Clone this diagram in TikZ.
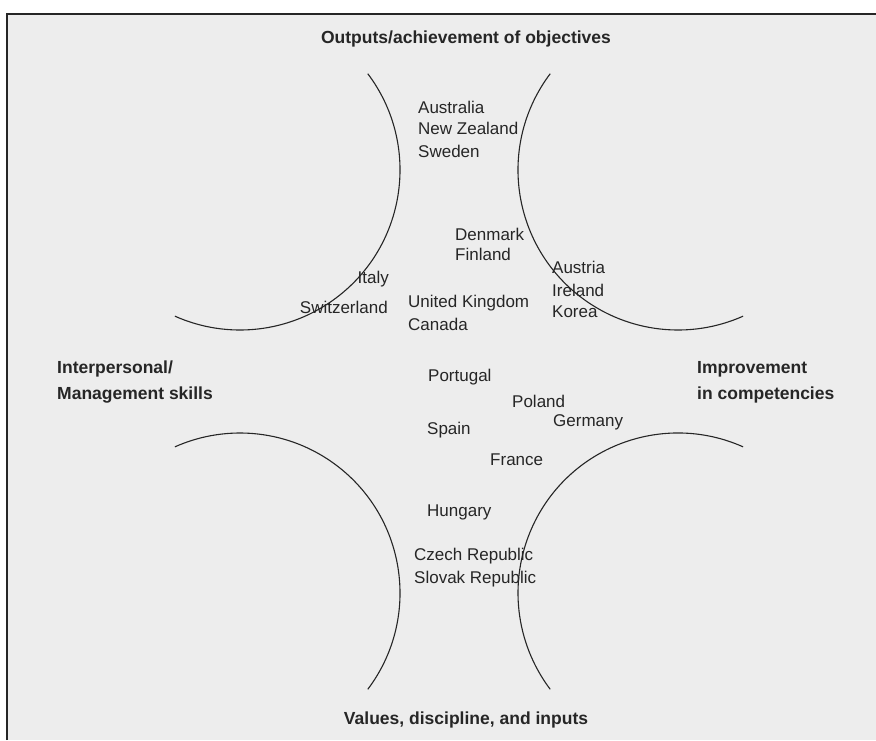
\documentclass[tikz,border=0pt]{standalone}
\usepackage{fontspec}
\setmainfont{Liberation Sans}
\definecolor{bgray}{HTML}{EDEDED}
\definecolor{ink}{HTML}{262626}
\begin{document}
\begin{tikzpicture}[x=1pt,y=1pt,
  country/.style={anchor=base west,inner sep=0pt,text=ink,font=\fontsize{17}{20}\selectfont},
  countryr/.style={anchor=base east,inner sep=0pt,text=ink,font=\fontsize{17}{20}\selectfont},
  heading/.style={inner sep=0pt,text=ink,font=\bfseries\fontsize{17.5}{21}\selectfont},
  curve/.style={draw=ink,line width=1.1pt}]
\useasboundingbox (0,0) rectangle (876,-740);
\fill[white] (0,0) rectangle (876,-740);
\fill[bgray] (7,-14) rectangle (876,-740);
\draw[ink,line width=1.8pt] (7,-740) -- (7,-14) -- (876,-14);
% arcs
\draw[curve] (240,-170) ++(37:160) arc[start angle=37,end angle=-114,radius=160];
\draw[curve] (678,-170) ++(143:160) arc[start angle=143,end angle=294,radius=160];
\draw[curve] (240,-593) ++(-37:160) arc[start angle=-37,end angle=114,radius=160];
\draw[curve] (678,-593) ++(66:160) arc[start angle=66,end angle=217,radius=160];
% headings
\node[heading,anchor=base] (top) at (466,-43) {Outputs/achievement of objectives};
\node[heading,anchor=base] (bottom) at (466,-724) {Values, discipline, and inputs};
\node[heading,anchor=base west] (left1) at (57,-373) {Interpersonal/};
\node[heading,anchor=base west] (left2) at (57,-399) {Management skills};
\node[heading,anchor=base west] (right1) at (697,-373) {Improvement};
\node[heading,anchor=base west] (right2) at (697,-399) {in competencies};
% countries
\node[country] (aus) at (418,-113) {Australia};
\node[country] (nz) at (418,-134) {New Zealand};
\node[country] (swe) at (418,-157) {Sweden};
\node[country] (den) at (455,-240) {Denmark};
\node[country] (fin) at (455,-260) {Finland};
\node[country] (aut) at (552,-273) {Austria};
\node[country] (irl) at (552,-296) {Ireland};
\node[country] (kor) at (552,-317) {Korea};
\node[countryr] (ita) at (389,-283) {Italy};
\node[countryr] (che) at (388,-313) {Switzerland};
\node[country] (uk) at (408,-307) {United Kingdom};
\node[country] (can) at (408,-330) {Canada};
\node[country] (por) at (428,-381) {Portugal};
\node[country] (pol) at (512,-407) {Poland};
\node[country] (ger) at (553,-426) {Germany};
\node[country] (esp) at (427,-434) {Spain};
\node[country] (fra) at (490,-465) {France};
\node[country] (hun) at (427,-516) {Hungary};
\node[country] (cze) at (414,-560) {Czech Republic};
\node[country] (svk) at (414,-583) {Slovak Republic};
\end{tikzpicture}
\end{document}
